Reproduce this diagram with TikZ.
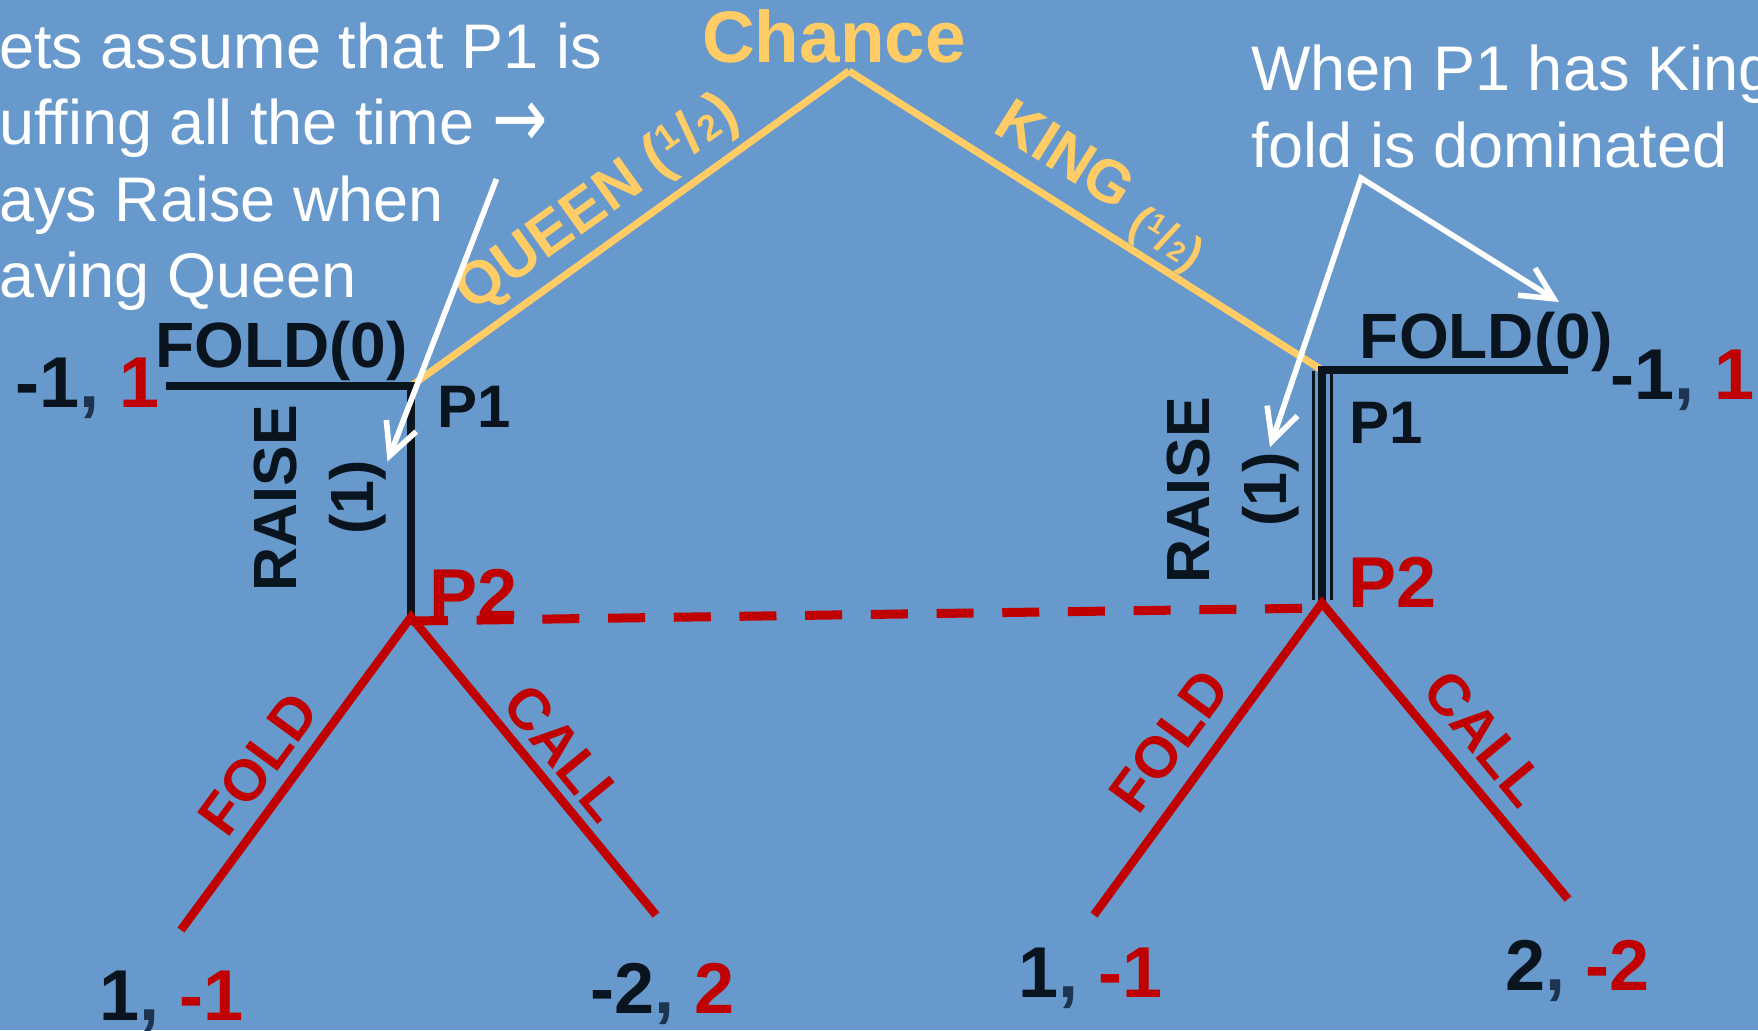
\documentclass[tikz,border=0pt]{standalone}
\usepackage{fontspec}
\setmainfont{Liberation Sans}
\newfontfamily\djv{DejaVu Sans}
\usetikzlibrary{arrows.meta}
\definecolor{bgblue}{RGB}{103,153,204}
\definecolor{gold}{RGB}{255,204,102}
\definecolor{ink}{RGB}{10,20,30}
\definecolor{dred}{RGB}{192,0,0}
\definecolor{navy}{RGB}{28,52,80}
\newcommand{\fsz}[1]{\fontsize{#1}{#1}\selectfont}
\newcommand{\halfq}{\raisebox{0.3em}{\scalebox{0.6}{1}}\kern0.03em/\kern0.03em\scalebox{0.6}{2}}
\begin{document}
\begin{tikzpicture}[x=0.5pt,y=-0.5pt,
  yl/.style={gold, line width=3.6pt},
  bl/.style={ink, line width=4pt, line join=miter},
  thinbl/.style={ink, line width=1.5pt},
  rd/.style={dred, line width=4.25pt, line join=miter},
  dashedlink/.style={dred, line width=4.5pt, dash pattern=on 18.5pt off 14.35pt},
  wa/.style={white, line width=2.8pt, line join=miter},
  barb/.tip={Straight Barb[length=16pt,width=16pt]},
  ann/.style={white, font=\fsz{31.5}, inner sep=0pt, anchor=base west},
  lab/.style={ink, font=\bfseries\fsz{32}, inner sep=0pt, anchor=base west},
  plab/.style={ink, font=\bfseries\fsz{30}, inner sep=0pt, anchor=base west},
  p2lab/.style={dred, font=\bfseries\fsz{36}, inner sep=0pt, anchor=base west},
  pay/.style={ink, font=\bfseries\fsz{36}, inner sep=0pt, anchor=base west},
  rlab/.style={ink, font=\bfseries\fsz{30.5}, inner sep=0pt, rotate=90},
  glab/.style={gold, font=\bfseries\fsz{30}, inner sep=0pt},
  redlab/.style={dred, font=\bfseries\fsz{29}, inner sep=0pt}]
\useasboundingbox (0,0) rectangle (1758,1030);
\fill[bgblue] (0,0) rectangle (1758,1030);
\clip (0,0) rectangle (1758,1030);

% tree points
\coordinate (chance) at (849,71);
\coordinate (qp1) at (411,386);
\coordinate (kp1) at (1322,370);
\coordinate (qp2) at (411,617);
\coordinate (kp2) at (1322,603);
\coordinate (qfoldleaf) at (166,386);
\coordinate (kfoldleaf) at (1568,370);
\coordinate (qf) at (181,930);
\coordinate (qc) at (656,915);
\coordinate (kf) at (1094,915);
\coordinate (kc) at (1568,899);

% chance branches
\draw[yl] (chance) -- (qp1);
\draw[yl] (chance) -- (kp1);

% P1 branches
\draw[bl] (qfoldleaf) -- (qp1) -- (qp2);
\draw[bl] (kfoldleaf) -- (kp1) -- (kp2);
\draw[thinbl] ([xshift=-4.25pt,yshift=-0.5pt]kp1) -- ([xshift=-4.25pt,yshift=1.5pt]kp2);
\draw[thinbl] ([xshift=4.75pt,yshift=-2pt]kp1) -- ([xshift=4.75pt,yshift=1.5pt]kp2);

% P2 branches
\draw[rd] (qf) -- (qp2) -- (qc);
\draw[rd] (kf) -- (kp2) -- (kc);
\draw[dashedlink] ([yshift=-2pt]qp2) -- ([yshift=-2.5pt]kp2);

% labels
\node[gold, font=\bfseries\fsz{36.5}, anchor=base, inner sep=0pt] (chancelab) at (834,62) {Chance};
\node[glab, rotate=35.6] (queenlab) at (598,204) {QUEEN (\halfq)};
\node[glab, rotate=-32.1] (kinglab) at (1100,188) {KING \raisebox{-0.2em}{\fsz{23}(\halfq)}};

\node[lab] (qfoldlab) at (155,367) {FOLD(0)};
\node[lab] (kfoldlab) at (1359.5,358) {FOLD(0)};
\node[plab] (qp1lab) at (437.5,427) {P1};
\node[plab] (kp1lab) at (1349.5,443) {P1};
\node[p2lab] (qp2lab) at (429.5,619) {P2};
\node[p2lab] (kp2lab) at (1348.5,607) {P2};

\node[rlab] (qraise) at (275.5,498.5) {RAISE};
\node[rlab] (qraiseamt) at (358,497.5) {(1)};
\node[rlab] (kraise) at (1188.5,490) {RAISE};
\node[rlab] (kraiseamt) at (1271,489.5) {(1)};

\node[redlab, rotate=53.7] (qfoldp2) at (258,764) {FOLD};
\node[redlab, rotate=-50.6] (qcallp2) at (565,753) {CALL};
\node[redlab, rotate=53.7] (kfoldp2) at (1169,741) {FOLD};
\node[redlab, rotate=-50.4] (kcallp2) at (1485,738) {CALL};

% payoffs
\node[pay] (payqfold) at (15,407) {-1{\color{navy},} {\color{dred}1}};
\node[pay] (paykfold) at (1610,399) {-1{\color{navy},} {\color{dred}1}};
\node[pay] (payqf) at (99,1020) {1{\color{navy},} {\color{dred}-1}};
\node[pay] (payqc) at (590,1013) {-2{\color{navy},} {\color{dred}2}};
\node[pay] (paykf) at (1018,997) {1{\color{navy},} {\color{dred}-1}};
\node[pay] (paykc) at (1505,990) {2{\color{navy},} {\color{dred}-2}};

% annotations
\node[ann] (annl1) at (-1,68) {ets assume that P1 is};
\node[ann] (annl2) at (-1,144.5) {uffing all the time {\djv\raisebox{-0.05em}{\scalebox{1.05}[1.35]{→}}}};
\node[ann] (annl3) at (-1,221) {ays Raise when};
\node[ann] (annl4) at (-1,297) {aving Queen};
\node[ann] (annr1) at (1251,90) {When P1 has King};
\node[ann] (annr2) at (1251,167) {fold is dominated};

% white arrows
\coordinate (qa) at (496.5,179);
\coordinate (qat) at (387.5,461.5);
\coordinate (ka) at (1361,178);
\coordinate (kat1) at (1270,447);
\coordinate (kat2) at (1559,302);
\draw[wa, -barb] (qa) -- (qat);
\draw[wa, barb-barb] (kat1) -- (ka) -- (kat2);
\end{tikzpicture}
\end{document}
